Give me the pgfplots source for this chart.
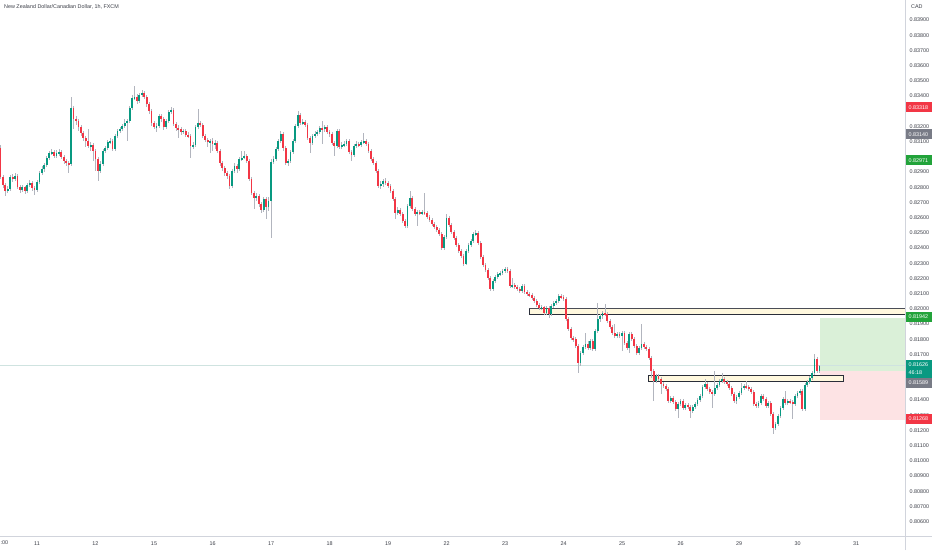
\documentclass[border=0pt]{standalone}
\usepackage{pgfplots}
\pgfplotsset{compat=1.18}
\usepackage{pgfplotstable}
\usepackage{fontspec}
\setmainfont{Liberation Sans}
\definecolor{upc}{HTML}{089981}
\definecolor{dnc}{HTML}{F23645}
\definecolor{wickc}{HTML}{B2B5BE}
\definecolor{txt}{HTML}{3C3F48}
\definecolor{axc}{HTML}{D1D4DC}
\definecolor{zonefill}{HTML}{FFF8DE}
\definecolor{zoneedge}{HTML}{2A2E39}
\definecolor{tgtfill}{HTML}{DAF0D8}
\definecolor{stopfill}{HTML}{FDE3E4}
\definecolor{tgtlab}{HTML}{22A33A}
\definecolor{graylab}{HTML}{787B86}
\definecolor{lastline}{HTML}{CFE3E0}

\pgfplotstableread{
t o h l c
-15 0.83058 0.83078 0.82853 0.82867
-14 0.82867 0.82880 0.82795 0.82815
-13 0.82815 0.82828 0.82742 0.82775
-12 0.82775 0.82808 0.82762 0.82788
-11 0.82788 0.82880 0.82775 0.82867
-10 0.82867 0.82886 0.82834 0.82853
-9 0.82853 0.82893 0.82841 0.82873
-8 0.82873 0.82886 0.82788 0.82802
-7 0.82802 0.82815 0.82762 0.82782
-6 0.82782 0.82815 0.82768 0.82802
-5 0.82802 0.82808 0.82755 0.82775
-4 0.82775 0.82828 0.82762 0.82815
-3 0.82815 0.82847 0.82802 0.82828
-2 0.82828 0.82841 0.82775 0.82795
-1 0.82795 0.82808 0.82749 0.82782
0 0.82782 0.82847 0.82768 0.82834
1 0.82834 0.82906 0.82821 0.82893
2 0.82893 0.82939 0.82880 0.82919
3 0.82919 0.82959 0.82899 0.82946
4 0.82946 0.83005 0.82933 0.82992
5 0.82992 0.83038 0.82979 0.83025
6 0.83025 0.83051 0.83012 0.83031
7 0.83031 0.83045 0.82992 0.83005
8 0.83005 0.83045 0.82992 0.83025
9 0.83025 0.83051 0.83005 0.83031
10 0.83031 0.83045 0.82985 0.82999
11 0.82999 0.83012 0.82952 0.82972
12 0.82972 0.82985 0.82939 0.82959
13 0.82959 0.82972 0.82893 0.82952
14 0.82952 0.83394 0.82939 0.83321
15 0.83321 0.83334 0.83182 0.83248
16 0.83248 0.83268 0.83209 0.83235
17 0.83235 0.83248 0.83170 0.83196
18 0.83196 0.83209 0.83137 0.83157
19 0.83157 0.83170 0.83104 0.83124
20 0.83124 0.83137 0.83065 0.83104
21 0.83104 0.83182 0.83058 0.83071
22 0.83071 0.83097 0.83038 0.83078
23 0.83078 0.83091 0.82972 0.83038
24 0.83038 0.83051 0.82906 0.82985
25 0.82985 0.82999 0.82841 0.82906
26 0.82906 0.82972 0.82893 0.82952
27 0.82952 0.83051 0.82939 0.83038
28 0.83038 0.83071 0.83025 0.83058
29 0.83058 0.83111 0.83045 0.83097
30 0.83097 0.83124 0.83084 0.83104
31 0.83104 0.83117 0.83038 0.83051
32 0.83051 0.83150 0.83038 0.83137
33 0.83137 0.83182 0.83124 0.83170
34 0.83170 0.83196 0.83157 0.83182
35 0.83182 0.83215 0.83170 0.83202
36 0.83202 0.83248 0.83189 0.83222
37 0.83222 0.83248 0.83104 0.83235
38 0.83235 0.83334 0.83222 0.83321
39 0.83321 0.83407 0.83308 0.83387
40 0.83387 0.83466 0.83374 0.83394
41 0.83394 0.83413 0.83347 0.83367
42 0.83367 0.83420 0.83354 0.83407
43 0.83407 0.83440 0.83394 0.83420
44 0.83420 0.83433 0.83380 0.83394
45 0.83394 0.83407 0.83328 0.83347
46 0.83347 0.83360 0.83281 0.83301
47 0.83301 0.83314 0.83202 0.83222
48 0.83222 0.83235 0.83182 0.83196
49 0.83196 0.83222 0.83163 0.83202
50 0.83202 0.83281 0.83189 0.83268
51 0.83268 0.83281 0.83228 0.83248
52 0.83248 0.83262 0.83176 0.83196
53 0.83196 0.83248 0.83182 0.83235
54 0.83235 0.83308 0.83222 0.83294
55 0.83294 0.83328 0.83281 0.83308
56 0.83308 0.83321 0.83202 0.83215
57 0.83215 0.83228 0.83170 0.83189
58 0.83189 0.83209 0.83124 0.83182
59 0.83182 0.83196 0.83143 0.83163
60 0.83163 0.83182 0.83150 0.83170
61 0.83170 0.83182 0.83130 0.83143
62 0.83143 0.83163 0.83124 0.83137
63 0.83137 0.83150 0.82992 0.83071
64 0.83071 0.83097 0.83051 0.83078
65 0.83078 0.83209 0.83065 0.83196
66 0.83196 0.83314 0.83182 0.83222
67 0.83222 0.83235 0.83196 0.83209
68 0.83209 0.83222 0.83124 0.83137
69 0.83137 0.83150 0.83097 0.83111
70 0.83111 0.83124 0.83065 0.83097
71 0.83097 0.83117 0.83025 0.83104
72 0.83104 0.83124 0.83038 0.83084
73 0.83084 0.83111 0.83051 0.83091
74 0.83091 0.83104 0.83025 0.83038
75 0.83038 0.83051 0.82939 0.82959
76 0.82959 0.82972 0.82906 0.82926
77 0.82926 0.82939 0.82873 0.82893
78 0.82893 0.82906 0.82853 0.82873
79 0.82873 0.82886 0.82788 0.82808
80 0.82808 0.82919 0.82795 0.82906
81 0.82906 0.82959 0.82893 0.82939
82 0.82939 0.82952 0.82893 0.82919
83 0.82919 0.82999 0.82906 0.82985
84 0.82985 0.83038 0.82972 0.82992
85 0.82992 0.83038 0.82985 0.83005
86 0.83005 0.83018 0.82959 0.82972
87 0.82972 0.82985 0.82841 0.82853
88 0.82853 0.82867 0.82749 0.82762
89 0.82762 0.82775 0.82656 0.82729
90 0.82729 0.82762 0.82709 0.82742
91 0.82742 0.82755 0.82670 0.82689
92 0.82689 0.82702 0.82630 0.82650
93 0.82650 0.82736 0.82636 0.82723
94 0.82723 0.82736 0.82590 0.82670
95 0.82670 0.82736 0.82643 0.82709
96 0.82709 0.82985 0.82466 0.82966
97 0.82966 0.83005 0.82952 0.82985
98 0.82985 0.83064 0.82972 0.83051
99 0.83051 0.83117 0.83038 0.83104
100 0.83104 0.83170 0.83091 0.83150
101 0.83150 0.83163 0.83038 0.83058
102 0.83058 0.83071 0.82946 0.82959
103 0.82959 0.82985 0.82939 0.82972
104 0.82972 0.83045 0.82959 0.83031
105 0.83031 0.83117 0.83018 0.83104
106 0.83104 0.83215 0.83091 0.83202
107 0.83202 0.83301 0.83189 0.83275
108 0.83275 0.83288 0.83209 0.83222
109 0.83222 0.83248 0.83209 0.83228
110 0.83228 0.83242 0.83196 0.83209
111 0.83209 0.83222 0.83111 0.83124
112 0.83124 0.83137 0.83025 0.83091
113 0.83091 0.83150 0.83078 0.83137
114 0.83137 0.83170 0.83124 0.83150
115 0.83150 0.83176 0.83137 0.83163
116 0.83163 0.83202 0.83150 0.83189
117 0.83189 0.83235 0.83084 0.83182
118 0.83182 0.83209 0.83163 0.83196
119 0.83196 0.83209 0.83150 0.83163
120 0.83163 0.83176 0.83130 0.83150
121 0.83150 0.83163 0.83078 0.83091
122 0.83091 0.83104 0.83005 0.83071
123 0.83071 0.83182 0.83058 0.83170
124 0.83170 0.83182 0.83051 0.83064
125 0.83064 0.83097 0.83051 0.83078
126 0.83078 0.83104 0.83064 0.83084
127 0.83084 0.83117 0.83071 0.83104
128 0.83104 0.83117 0.83018 0.83031
129 0.83031 0.83045 0.82972 0.83012
130 0.83012 0.83084 0.82999 0.83071
131 0.83071 0.83104 0.83058 0.83084
132 0.83084 0.83097 0.83064 0.83078
133 0.83078 0.83111 0.83064 0.83097
134 0.83097 0.83157 0.83084 0.83104
135 0.83104 0.83117 0.83071 0.83084
136 0.83084 0.83097 0.83025 0.83038
137 0.83038 0.83051 0.82972 0.82985
138 0.82985 0.82999 0.82946 0.82959
139 0.82959 0.82972 0.82893 0.82906
140 0.82906 0.82919 0.82795 0.82808
141 0.82808 0.82841 0.82788 0.82821
142 0.82821 0.82853 0.82802 0.82841
143 0.82841 0.82861 0.82815 0.82828
144 0.82828 0.82841 0.82795 0.82808
145 0.82808 0.82821 0.82762 0.82775
146 0.82775 0.82788 0.82709 0.82723
147 0.82723 0.82736 0.82590 0.82630
148 0.82630 0.82670 0.82617 0.82650
149 0.82650 0.82663 0.82610 0.82623
150 0.82623 0.82636 0.82564 0.82577
151 0.82577 0.82590 0.82531 0.82544
152 0.82544 0.82689 0.82531 0.82676
153 0.82676 0.82775 0.82663 0.82729
154 0.82729 0.82742 0.82643 0.82656
155 0.82656 0.82670 0.82610 0.82623
156 0.82623 0.82650 0.82544 0.82636
157 0.82636 0.82650 0.82617 0.82630
158 0.82630 0.82650 0.82617 0.82636
159 0.82636 0.82762 0.82617 0.82630
160 0.82630 0.82643 0.82590 0.82603
161 0.82603 0.82617 0.82570 0.82584
162 0.82584 0.82597 0.82544 0.82557
163 0.82557 0.82570 0.82524 0.82538
164 0.82538 0.82551 0.82505 0.82518
165 0.82518 0.82531 0.82479 0.82492
166 0.82492 0.82505 0.82387 0.82400
167 0.82400 0.82486 0.82387 0.82473
168 0.82473 0.82623 0.82459 0.82597
169 0.82597 0.82610 0.82538 0.82551
170 0.82551 0.82564 0.82492 0.82505
171 0.82505 0.82518 0.82453 0.82466
172 0.82466 0.82479 0.82407 0.82420
173 0.82420 0.82433 0.82367 0.82380
174 0.82380 0.82393 0.82334 0.82347
175 0.82347 0.82360 0.82281 0.82294
176 0.82294 0.82393 0.82288 0.82380
177 0.82380 0.82433 0.82367 0.82420
178 0.82420 0.82459 0.82407 0.82446
179 0.82446 0.82505 0.82433 0.82492
180 0.82492 0.82518 0.82479 0.82499
181 0.82499 0.82512 0.82420 0.82433
182 0.82433 0.82446 0.82327 0.82341
183 0.82341 0.82354 0.82275 0.82288
184 0.82288 0.82301 0.82241 0.82255
185 0.82255 0.82268 0.82189 0.82202
186 0.82202 0.82215 0.82117 0.82130
187 0.82130 0.82196 0.82117 0.82183
188 0.82183 0.82222 0.82170 0.82209
189 0.82209 0.82241 0.82196 0.82228
190 0.82228 0.82248 0.82215 0.82235
191 0.82235 0.82261 0.82222 0.82248
192 0.82248 0.82275 0.82235 0.82261
193 0.82261 0.82275 0.82235 0.82248
194 0.82248 0.82261 0.82137 0.82150
195 0.82150 0.82202 0.82137 0.82157
196 0.82157 0.82170 0.82130 0.82144
197 0.82144 0.82157 0.82117 0.82130
198 0.82130 0.82144 0.82104 0.82117
199 0.82117 0.82163 0.82104 0.82150
200 0.82150 0.82163 0.82097 0.82110
201 0.82110 0.82124 0.82084 0.82097
202 0.82097 0.82110 0.82078 0.82091
203 0.82091 0.82104 0.82058 0.82071
204 0.82071 0.82084 0.82038 0.82051
205 0.82051 0.82064 0.82012 0.82025
206 0.82025 0.82038 0.81992 0.82005
207 0.82005 0.82025 0.81992 0.82012
208 0.82012 0.82018 0.81959 0.81972
209 0.81972 0.82018 0.81959 0.82005
210 0.82005 0.82018 0.81939 0.81966
211 0.81966 0.82031 0.81952 0.82018
212 0.82018 0.82051 0.82005 0.82038
213 0.82038 0.82064 0.82025 0.82051
214 0.82051 0.82097 0.82038 0.82084
215 0.82084 0.82097 0.82064 0.82078
216 0.82078 0.82091 0.82051 0.82064
217 0.82064 0.82078 0.81919 0.81932
218 0.81932 0.81946 0.81854 0.81866
219 0.81866 0.81880 0.81795 0.81808
220 0.81808 0.81821 0.81781 0.81801
221 0.81801 0.81815 0.81742 0.81755
222 0.81755 0.81768 0.81577 0.81643
223 0.81643 0.81722 0.81623 0.81709
224 0.81709 0.81762 0.81696 0.81748
225 0.81748 0.81841 0.81735 0.81768
226 0.81768 0.81788 0.81729 0.81742
227 0.81742 0.81801 0.81729 0.81788
228 0.81788 0.81801 0.81722 0.81735
229 0.81735 0.81867 0.81722 0.81854
230 0.81854 0.82038 0.81841 0.81932
231 0.81932 0.81966 0.81913 0.81952
232 0.81952 0.81985 0.81932 0.81972
233 0.81972 0.82031 0.81952 0.81966
234 0.81966 0.81979 0.81906 0.81919
235 0.81919 0.81932 0.81866 0.81880
236 0.81880 0.81893 0.81828 0.81841
237 0.81841 0.81900 0.81808 0.81821
238 0.81821 0.81847 0.81808 0.81834
239 0.81834 0.81847 0.81808 0.81821
240 0.81821 0.81854 0.81722 0.81841
241 0.81841 0.81854 0.81762 0.81775
242 0.81775 0.81788 0.81729 0.81742
243 0.81742 0.81847 0.81709 0.81834
244 0.81834 0.81847 0.81788 0.81801
245 0.81801 0.81815 0.81742 0.81755
246 0.81755 0.81768 0.81696 0.81709
247 0.81709 0.81755 0.81696 0.81742
248 0.81742 0.81900 0.81729 0.81768
249 0.81768 0.81781 0.81735 0.81748
250 0.81748 0.81762 0.81722 0.81735
251 0.81735 0.81748 0.81663 0.81676
252 0.81676 0.81689 0.81544 0.81590
253 0.81590 0.81603 0.81393 0.81525
254 0.81525 0.81570 0.81512 0.81557
255 0.81557 0.81570 0.81525 0.81537
256 0.81537 0.81551 0.81439 0.81505
257 0.81505 0.81518 0.81479 0.81492
258 0.81492 0.81505 0.81459 0.81472
259 0.81472 0.81485 0.81380 0.81393
260 0.81393 0.81426 0.81380 0.81413
261 0.81413 0.81426 0.81373 0.81386
262 0.81386 0.81400 0.81327 0.81340
263 0.81340 0.81386 0.81281 0.81373
264 0.81373 0.81406 0.81360 0.81393
265 0.81393 0.81406 0.81334 0.81347
266 0.81347 0.81380 0.81334 0.81367
267 0.81367 0.81380 0.81340 0.81354
268 0.81354 0.81367 0.81281 0.81327
269 0.81327 0.81367 0.81314 0.81354
270 0.81354 0.81386 0.81340 0.81373
271 0.81373 0.81413 0.81360 0.81400
272 0.81400 0.81439 0.81386 0.81426
273 0.81426 0.81499 0.81413 0.81486
274 0.81486 0.81538 0.81472 0.81505
275 0.81505 0.81518 0.81459 0.81472
276 0.81472 0.81486 0.81439 0.81452
277 0.81452 0.81466 0.81347 0.81439
278 0.81439 0.81590 0.81426 0.81479
279 0.81479 0.81512 0.81466 0.81499
280 0.81499 0.81538 0.81486 0.81525
281 0.81525 0.81577 0.81512 0.81538
282 0.81538 0.81551 0.81505 0.81518
283 0.81518 0.81531 0.81492 0.81505
284 0.81505 0.81518 0.81466 0.81479
285 0.81479 0.81492 0.81426 0.81439
286 0.81439 0.81452 0.81380 0.81393
287 0.81393 0.81433 0.81373 0.81419
288 0.81419 0.81459 0.81406 0.81446
289 0.81446 0.81512 0.81433 0.81479
290 0.81479 0.81505 0.81466 0.81492
291 0.81492 0.81525 0.81472 0.81486
292 0.81486 0.81499 0.81459 0.81472
293 0.81472 0.81486 0.81439 0.81452
294 0.81452 0.81466 0.81360 0.81373
295 0.81373 0.81386 0.81347 0.81360
296 0.81360 0.81393 0.81347 0.81380
297 0.81380 0.81439 0.81367 0.81426
298 0.81426 0.81439 0.81393 0.81406
299 0.81406 0.81419 0.81347 0.81360
300 0.81360 0.81393 0.81347 0.81380
301 0.81380 0.81393 0.81294 0.81307
302 0.81307 0.81320 0.81176 0.81215
303 0.81215 0.81254 0.81202 0.81241
304 0.81241 0.81307 0.81228 0.81294
305 0.81294 0.81360 0.81281 0.81347
306 0.81347 0.81419 0.81334 0.81406
307 0.81406 0.81459 0.81367 0.81380
308 0.81380 0.81406 0.81367 0.81393
309 0.81393 0.81406 0.81373 0.81386
310 0.81386 0.81400 0.81274 0.81373
311 0.81373 0.81439 0.81360 0.81426
312 0.81426 0.81459 0.81413 0.81446
313 0.81446 0.81472 0.81433 0.81459
314 0.81459 0.81472 0.81327 0.81340
315 0.81340 0.81512 0.81327 0.81499
316 0.81499 0.81531 0.81486 0.81518
317 0.81518 0.81557 0.81505 0.81544
318 0.81544 0.81590 0.81531 0.81577
319 0.81577 0.81702 0.81564 0.81669
320 0.81669 0.81683 0.81577 0.81590
321 0.81590 0.81630 0.81577 0.81626
}\candles

\newcommand{\tfont}{\fontsize{5.4}{6}\selectfont}
\newcommand{\badge}[3]{%
  \fill[#1] (905.6,{550-#2-5}) rectangle (932,{550-#2+5});
  \node[text=white, font=\tfont, anchor=west, inner sep=0pt] at (908.5,{550-#2}) {#3};}

\begin{document}
\begin{tikzpicture}[x=1pt,y=1pt]
\useasboundingbox (0,0) rectangle (932,550);
\fill[white] (0,0) rectangle (932,550);
\begin{axis}[
  at={(0,8.5)}, anchor=south west,
  width=905pt, height=536pt, scale only axis,
  xmin=-15.179, xmax=356.1,
  ymin=0.804987, ymax=0.84025,
  axis line style={draw=none},
  major tick length=0pt,
  xtick={0,24,48,72,96,120,144,168,192,216,240,264,288,312,336},
  xticklabels={11,12,15,16,17,18,19,22,23,24,25,26,29,30,31},
  xticklabel style={font=\tfont, text=txt, anchor=center, yshift=-7pt},
  ytick={0.806,0.807,0.808,0.809,0.810,0.811,0.812,0.813,0.814,0.817,0.818,0.819,0.820,0.821,0.822,0.823,0.824,0.825,0.826,0.827,0.828,0.829,0.831,0.832,0.834,0.835,0.836,0.837,0.838,0.839},
  yticklabel pos=right,
  yticklabel style={font=\tfont, text=txt, anchor=west, inner sep=0pt, xshift=4.5pt,
    /pgf/number format/fixed, /pgf/number format/zerofill,
    /pgf/number format/precision=5, /pgf/number format/assume math mode=true},
]
% long position box
\addplot[fill=tgtfill, draw=none, forget plot] coordinates {(321.2,0.81589) (356.1,0.81589) (356.1,0.81942) (321.2,0.81942)} -- cycle;
\addplot[fill=stopfill, draw=none, forget plot] coordinates {(321.2,0.81268) (356.1,0.81268) (356.1,0.81589) (321.2,0.81589)} -- cycle;
% last price line
\addplot[lastline, line width=0.6pt, forget plot] coordinates {(-15.179,0.81626) (356.1,0.81626)};
% zones
\addplot[fill=zonefill, draw=zoneedge, line width=0.7pt, forget plot] coordinates {(201.8,0.82002) (360,0.82002) (360,0.81966) (201.8,0.81966)} -- cycle;
\addplot[zoneedge!85, line width=1.5pt, forget plot] coordinates {(201.8,0.82003) (360,0.82003)};
\addplot[fill=zonefill, draw=zoneedge, line width=0.7pt, forget plot] coordinates {(250.7,0.81564) (330.7,0.81564) (330.7,0.81525) (250.7,0.81525)} -- cycle;
% wicks
\addplot[draw=none, mark=none, forget plot,
  error bars/.cd, y dir=both, y explicit, error mark=none,
  error bar style={draw=wickc, line width=0.55pt}]
  table[x=t, y expr={(\thisrow{h}+\thisrow{l})/2}, y error expr={(\thisrow{h}-\thisrow{l})/2}] {\candles};
% up bodies
\addplot[draw=none, mark=none, forget plot,
  restrict expr to domain={\thisrow{c}-\thisrow{o}}{0:1},
  error bars/.cd, y dir=both, y explicit, error mark=none,
  error bar style={draw=upc, line width=1.8pt}]
  table[x=t, y expr={(\thisrow{o}+\thisrow{c})/2}, y error expr={abs(\thisrow{c}-\thisrow{o})/2}] {\candles};
% down bodies
\addplot[draw=none, mark=none, forget plot,
  restrict expr to domain={\thisrow{c}-\thisrow{o}}{-1:-0.000001},
  error bars/.cd, y dir=both, y explicit, error mark=none,
  error bar style={draw=dnc, line width=1.8pt}]
  table[x=t, y expr={(\thisrow{o}+\thisrow{c})/2}, y error expr={abs(\thisrow{c}-\thisrow{o})/2}] {\candles};
\end{axis}
% axis lines
\draw[axc, line width=0.8pt] (905,0) -- (905,550);
\draw[axc, line width=0.8pt] (0,14) -- (932,14);
% title and labels
\node[anchor=west, font=\tfont, text=txt, inner sep=0pt] at (4,543) {New Zealand Dollar/Canadian Dollar, 1h, FXCM};
\node[anchor=west, font=\tfont, text=txt, inner sep=0pt] at (911,543) {CAD};
\node[anchor=west, font=\tfont, text=txt, inner sep=0pt] at (0.5,7) {:00};
% price badges
\badge{dnc}{107.5}{0.83318}
\badge{graylab}{134.5}{0.83140}
\badge{tgtlab}{160.2}{0.82971}
\badge{tgtlab}{316.6}{0.81942}
\fill[upc] (905.6,{550-378}) rectangle (932,{550-359.5});
\node[text=white, font=\tfont, anchor=west, inner sep=0pt] at (908.5,{550-364.6}) {0.81626};
\node[text=white, font=\tfont, anchor=west, inner sep=0pt] at (908.5,{550-373}) {46:18};
\badge{graylab}{382.5}{0.81589}
\badge{dnc}{419}{0.81268}
\end{tikzpicture}
\end{document}
